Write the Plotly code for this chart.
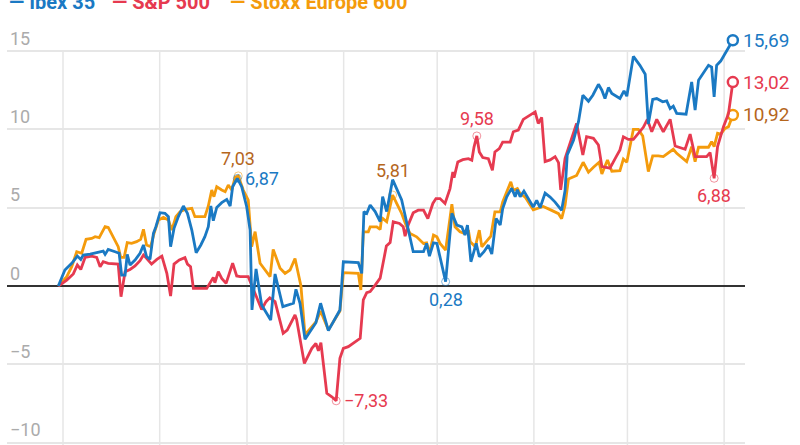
import plotly.graph_objects as go

# Day offset from 1 January (vertex positions) and % change since start
ibex_day = [-1.5, 0.6, 2.8, 4.6, 5.7, 6.5, 8.7, 11.9, 12.9, 13.5,
            14.5, 16.7, 18.0, 18.8, 19.9, 20.6, 21.5, 23.1, 24.7, 25.8,
            26.8, 27.9, 29.0, 29.8, 31.1, 32.7, 33.8, 34.5, 35.6, 37.0,
            38.6, 39.9, 41.3, 42.7, 44.2, 45.5, 46.6, 47.4, 48.2, 49.3,
            50.9, 52.5, 53.6, 54.4, 55.9, 57.3, 58.9, 60.0, 60.6, 61.9,
            63.7, 66.6, 68.0, 70.5, 73.9, 74.7, 76.0, 77.6, 81.1, 82.6,
            85.1, 88.8, 89.9, 94.7, 95.8, 96.5, 97.4, 98.5, 100.1, 101.7,
            102.5, 103.8, 105.7, 108.6, 110.2, 112.3, 115.6, 116.6, 117.5, 118.8,
            119.9, 122.7, 124.7, 126.3, 127.9, 128.9, 129.7, 130.8, 131.6, 132.5,
            133.5, 135.0, 136.4, 137.5, 138.9, 140.2, 141.0, 142.3, 143.9, 145.0,
            145.7, 146.6, 147.8, 149.5, 150.8, 151.9, 153.0, 154.6, 156.2, 157.8,
            159.9, 161.0, 161.7, 163.7, 165.3, 166.7, 168.5, 169.9, 171.7, 172.8,
            173.8, 174.9, 176.0, 178.6, 179.9, 180.8, 182.9, 185.0, 186.7, 187.7,
            189.1, 190.4, 192.3, 193.6, 194.7, 195.7, 196.8, 199.8, 201.6, 202.7,
            203.8, 207.0, 208.0, 208.8, 209.6, 210.9, 214.8]
ibex_val = [0, 1.02, 1.45, 1.91, 1.70, 1.98, 2.04, 2.17, 2.23, 2.02,
            2.34, 2.19, 2.09, 0.70, 0.70, 2.02, 1.34, 1.66, 2.09, 2.62,
            1.87, 1.70, 3.36, 3.79, 4.68, 4.64, 4.43, 2.51, 3.68, 4.43,
            5.11, 4.64, 3.57, 2.13, 2.62, 3.15, 3.79, 5.11, 4.17, 5.02,
            5.32, 5.53, 5.11, 6.34, 6.87, 6.34, 5.06, 3.57, -1.53, 1.09,
            -1.21, -2.17, 0.77, -1.32, -1.10, -0.21, -1.11, -3.40, -2.34, -1.10,
            -2.85, -1.53, 1.55, 1.49, 0.81, 4.75, 4.63, 5.17, 4.75, 4.11,
            5.70, 4.75, 6.79, 5.49, 4.00, 2.19, 2.19, 2.72, 1.91, 2.76,
            2.72, 0.28, 4.64, 3.89, 3.78, 3.25, 3.89, 1.55, 2.08, 2.72,
            1.87, 2.19, 2.61, 2.04, 4.31, 3.89, 4.95, 5.70, 6.24, 5.70,
            6.15, 5.70, 6.06, 5.51, 5.04, 5.47, 5.00, 5.93, 5.68, 5.36,
            4.83, 6.10, 8.37, 9.30, 10.49, 12.18, 11.80, 12.18, 12.88, 12.50,
            11.97, 12.67, 12.29, 11.97, 12.46, 12.12, 14.66, 14.09, 13.52, 10.34,
            11.91, 11.97, 11.76, 11.82, 11.33, 11.48, 11.02, 10.97, 13.03, 11.23,
            13.14, 14.09, 13.98, 12.08, 14.09, 14.36, 15.69]

sp_day = [-1.5, 1.2, 3.3, 4.6, 5.7, 7.1, 9.2, 10.8, 11.9, 12.9,
          14.5, 17.7, 18.6, 19.9, 21.5, 23.1, 24.7, 25.8, 26.8, 28.4,
          30.1, 31.7, 33.3, 34.5, 35.6, 37.3, 39.1, 39.9, 40.9, 41.8,
          46.1, 47.1, 48.2, 48.7, 49.8, 50.9, 52.3, 54.4, 55.7, 56.8,
          59.4, 60.6, 63.7, 65.1, 66.3, 68.0, 70.6, 71.9, 74.4, 74.9,
          77.4, 79.8, 81.1, 81.9, 82.7, 84.6, 86.2, 87.6, 88.8, 89.9,
          91.5, 95.3, 96.3, 97.4, 98.5, 100.1, 101.7, 103.7, 104.9, 105.9,
          107.9, 109.1, 109.7, 110.7, 112.3, 113.9, 115.6, 117.0, 118.6, 119.6,
          120.9, 122.5, 124.1, 125.0, 125.4, 126.6, 128.2, 130.0, 131.1, 131.8,
          132.7, 133.5, 134.6, 136.4, 137.7, 138.5, 139.9, 141.0, 143.4, 144.4,
          146.0, 147.6, 151.4, 152.4, 153.5, 154.6, 156.2, 157.8, 158.9, 159.6,
          161.0, 162.6, 164.7, 166.7, 167.9, 170.1, 171.7, 172.8, 175.4, 177.4,
          178.6, 179.7, 181.3, 182.9, 185.0, 186.1, 187.4, 188.8, 190.4, 192.5,
          194.7, 196.3, 199.5, 201.1, 202.7, 206.4, 207.5, 208.8, 209.9, 211.8,
          213.4, 214.8]
sp_val = [0, 0.38, 0.77, 1.34, 1.06, 1.83, 1.91, 1.83, 1.23, 1.55,
          1.45, 1.40, -0.68, 0.91, 1.06, 1.28, 1.62, 1.98, 1.77, 1.40,
          1.70, 1.91, 0.81, -0.64, 1.40, 1.66, 1.81, 1.40, 1.23, -0.15,
          -0.15, 0.17, 0.55, 0.21, 0.91, 0.49, 0.17, 1.45, 0.64, 0.60,
          0.60, 0.0, -1.50, -1.00, -0.75, -1.00, -3.02, -2.81, -1.85, -2.13,
          -4.94, -3.98, -3.67, -4.13, -3.62, -6.85, -7.07, -7.33, -4.62, -3.98,
          -3.87, -3.34, -0.89, -0.43, -0.36, 0.06, 0.50, 2.55, 2.78, 4.10,
          3.99, 3.78, 3.18, 3.89, 4.67, 4.84, 4.84, 4.31, 5.27, 5.58,
          5.58, 5.27, 6.22, 7.28, 6.92, 7.92, 8.07, 8.13, 8.03, 8.87,
          9.58, 8.56, 8.20, 8.13, 7.39, 8.56, 8.77, 9.19, 9.19, 9.85,
          9.96, 10.64, 11.12, 10.38, 10.76, 7.94, 8.05, 8.26, 7.88, 6.14,
          8.16, 9.11, 10.38, 8.37, 9.53, 9.43, 9.00, 7.63, 7.52, 8.26,
          8.69, 9.53, 9.36, 9.36, 9.85, 10.13, 10.64, 9.85, 10.64, 9.85,
          10.64, 8.94, 8.73, 9.70, 8.26, 8.26, 8.52, 6.88, 8.90, 10.17,
          11.00, 13.02]

stoxx_day = [-1.5, 1.2, 2.8, 4.4, 6.0, 7.4, 9.2, 10.3, 11.6, 13.5,
             14.5, 16.1, 17.7, 18.5, 19.6, 20.6, 22.0, 23.6, 24.9, 25.8,
             26.8, 28.1, 29.2, 30.6, 32.2, 33.8, 34.9, 36.2, 37.5, 39.1,
             41.3, 42.3, 45.5, 46.6, 47.7, 48.4, 49.3, 50.9, 52.0, 53.0,
             54.1, 55.2, 56.2, 57.8, 59.4, 60.5, 61.6, 63.2, 64.8, 66.4,
             67.4, 69.6, 71.2, 72.8, 74.4, 75.4, 76.3, 77.6, 81.1, 82.6,
             85.1, 88.8, 89.9, 94.7, 95.5, 96.3, 97.9, 98.5, 100.6, 101.7,
             102.2, 103.8, 105.7, 107.0, 108.6, 110.0, 111.3, 113.4, 115.6, 116.6,
             117.5, 118.8, 119.9, 120.9, 122.7, 124.7, 125.7, 127.3, 128.9, 130.0,
             130.6, 132.2, 133.5, 134.3, 137.2, 138.5, 140.2, 141.0, 142.3, 143.6,
             144.4, 145.7, 146.6, 148.2, 150.8, 154.0, 156.7, 158.9, 159.9, 161.0,
             162.1, 164.7, 166.8, 168.5, 170.1, 171.9, 172.8, 174.6, 176.0, 178.6,
             179.7, 180.8, 182.9, 184.5, 185.9, 187.7, 189.1, 190.9, 192.5, 194.1,
             195.7, 196.8, 200.0, 201.6, 202.7, 203.8, 207.0, 208.0, 208.8, 209.9,
             210.9, 212.3, 213.4, 214.8]
stoxx_val = [0, 0.60, 1.23, 2.19, 2.09, 2.98, 3.04, 3.15, 3.09, 3.79,
             3.74, 3.15, 2.51, 1.83, 1.83, 2.77, 2.72, 2.83, 2.98, 3.62,
             2.62, 2.51, 3.36, 4.21, 4.38, 4.21, 3.57, 4.43, 4.74, 4.89,
             4.96, 4.43, 4.43, 5.11, 6.13, 5.70, 6.34, 6.13, 6.02, 6.45,
             6.13, 6.94, 7.03, 6.13, 5.49, 2.51, 3.47, 1.45, 1.02, 0.60,
             2.34, 1.13, 0.81, 1.02, 1.76, 0.90, 0.00, -3.10, -2.30, -1.60,
             -2.80, -1.60, 0.85, 0.81, -0.25, 3.46, 3.46, 3.78, 3.78, 3.61,
             4.37, 4.10, 5.81, 5.27, 4.63, 3.89, 3.35, 3.14, 2.72, 2.76,
             2.08, 3.25, 3.14, 2.72, 2.29, 5.22, 3.78, 3.46, 3.35, 3.57,
             2.82, 2.50, 3.57, 2.50, 3.18, 4.73, 4.73, 5.37, 6.00, 6.65,
             6.11, 6.22, 5.90, 5.68, 4.87, 5.08, 4.83, 4.62, 4.30, 5.15,
             6.84, 7.06, 7.90, 7.27, 7.58, 7.90, 7.16, 8.05, 7.33, 7.37,
             8.10, 7.90, 10.00, 10.00, 9.58, 7.31, 8.31, 8.31, 8.26, 8.47,
             8.73, 8.47, 7.94, 8.90, 7.94, 8.86, 8.86, 9.22, 8.90, 9.75,
             9.70, 10.06, 10.17, 10.92]

# highlighted values on each line
ibex_notes = [6.87, 0.28]
sp_notes = [-7.33, 9.58, 6.88]
stoxx_notes = [7.03, 5.81]

month_starts = [0, 31, 59, 90, 120, 151, 181, 212]
y_ticks = [-10, -5, 0, 5, 10, 15]

FONT = "Roboto, Arial, sans-serif"
GRID = "#e6e6e6"

series = [
    # name, x, y, line colour, text colour, notes
    ("Stoxx Europe 600", stoxx_day, stoxx_val, "#f49b0c", "#b5661c", stoxx_notes),
    ("S&P 500", sp_day, sp_val, "#e63a50", "#e63a50", sp_notes),
    ("Ibex 35", ibex_day, ibex_val, "#1a79c3", "#1a79c3", ibex_notes),
]

# where each note label sits relative to its point (side, gap in px)
note_place = {7.03: ("above", 5), 6.87: ("right", 6), 5.81: ("above", 12),
              0.28: ("below", 5), 9.58: ("above", 5), -7.33: ("right", 6),
              6.88: ("below", 5)}


def fmt(v):
    s = f"{abs(v):.2f}".replace(".", ",")
    return ("\u2212" + s) if v < 0 else s


fig = go.Figure()
annotations = []

for name, xs, ys, col, tcol, notes in series:
    fig.add_trace(go.Scatter(x=xs, y=ys, mode="lines", name=name,
                             line=dict(color=col, width=2.8), hoverinfo="skip"))
    nx = [xs[ys.index(v)] for v in notes]
    fig.add_trace(go.Scatter(x=nx, y=notes, mode="markers", showlegend=False,
                             marker=dict(symbol="circle-open", size=8, color=col,
                                         opacity=0.55, line=dict(width=1)),
                             hoverinfo="skip", cliponaxis=False))
    for x, v in zip(nx, notes):
        side, gap = note_place[v]
        a = dict(x=x, y=v, text=fmt(v), showarrow=False,
                 font=dict(family=FONT, size=18, color=tcol))
        if side == "right":
            a.update(xanchor="left", yanchor="middle", xshift=gap)
        elif side == "above":
            a.update(xanchor="center", yanchor="bottom", yshift=gap)
        else:
            a.update(xanchor="center", yanchor="top", yshift=-gap)
        annotations.append(a)
    # end point
    fig.add_trace(go.Scatter(x=[xs[-1]], y=[ys[-1]], mode="markers", showlegend=False,
                             marker=dict(symbol="circle", size=10, color="white",
                                         line=dict(color=col, width=2.5)),
                             hoverinfo="skip", cliponaxis=False))
    annotations.append(dict(x=xs[-1], y=ys[-1], text=fmt(ys[-1]), showarrow=False,
                            xanchor="left", yanchor="middle", xshift=8,
                            font=dict(family=FONT, size=19, color=tcol)))

# legend across the top
legend_items = [("Ibex 35", "#1a79c3", 0.0), ("S&P 500", "#e63a50", 0.1396),
                ("Stoxx Europe 600", "#f49b0c", 0.2995)]
for label, col, lx in legend_items:
    annotations.append(dict(xref="paper", yref="paper", x=lx, y=1, text="<b>\u2014 " + label + "</b>",
                            showarrow=False, xanchor="left", yanchor="middle", yshift=-2,
                            font=dict(family=FONT, size=20, color=col)))

shapes = [dict(type="line", xref="x", yref="y", x0=d, x1=d, y0=-10.2, y1=15,
               line=dict(color=GRID, width=1.5), layer="below") for d in month_starts]

fig.update_layout(
    width=800, height=445,
    margin=dict(l=7, r=55, t=0, b=0),
    paper_bgcolor="white", plot_bgcolor="white",
    showlegend=False,
    annotations=annotations,
    shapes=shapes,
    xaxis=dict(range=[-17.96, 218.7], showgrid=False, zeroline=False,
               showticklabels=False, showline=False),
    yaxis=dict(range=[-10.15, 18.26], tickvals=y_ticks, ticklabelposition="inside top",
               tickfont=dict(family=FONT, size=18, color="#ababab"),
               showgrid=True, gridcolor=GRID, gridwidth=1.5,
               zeroline=True, zerolinecolor="#333333", zerolinewidth=1.5,
               showline=False, ticks=""),
)

fig.write_html("out.html", config={"displayModeBar": False},
               post_script="document.body.style.margin='0';document.body.style.overflow='hidden';")
